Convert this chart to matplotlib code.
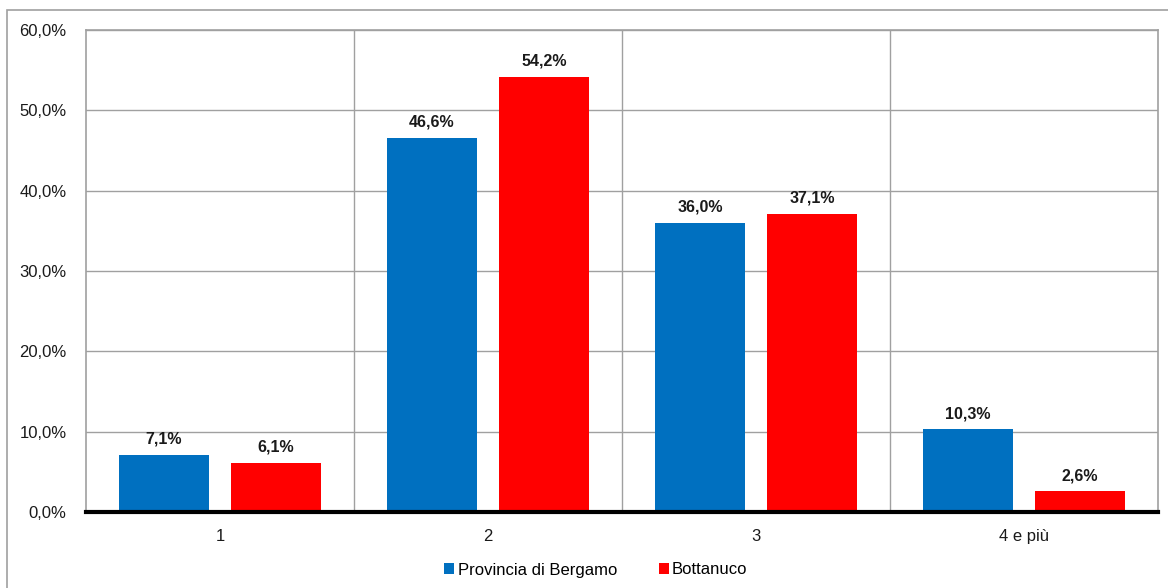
import matplotlib
matplotlib.use("Agg")
import matplotlib.pyplot as plt
import numpy as np
from matplotlib.patches import Rectangle

categories = ["1", "2", "3", "4 e più"]
bergamo = [7.1, 46.6, 36.0, 10.3]
bottanuco = [6.1, 54.2, 37.1, 2.6]
series_names = ["Provincia di Bergamo", "Bottanuco"]
yticks = [0, 10, 20, 30, 40, 50, 60]

BLUE = "#0070C0"
RED = "#FF0000"
GRID = "#A0A0A0"


def fmt(v):
    return f"{v:.1f}".replace(".", ",") + "%"


def main():
    plt.rcParams['font.family'] = ['Liberation Sans', 'DejaVu Sans']
    fig = plt.figure(figsize=(11.68, 5.88), dpi=100)

    # outer frame of the chart
    fig.patches.append(Rectangle((7 / 1168, -0.1), 1.2, (588 - 10) / 588 + 0.1,
                                 transform=fig.transFigure, fill=False,
                                 edgecolor="#A0A0A0", linewidth=1.2))

    ax = fig.add_axes([86 / 1168, 76 / 588, (1158 - 86) / 1168, (512 - 30) / 588])

    x = np.arange(len(categories))
    offset = 0.209
    width = 0.336
    b1 = ax.bar(x - offset, bergamo, width, color=BLUE, label=series_names[0], zorder=3)
    b2 = ax.bar(x + offset, bottanuco, width, color=RED, label=series_names[1], zorder=3)

    for bars, vals in ((b1, bergamo), (b2, bottanuco)):
        for rect, v in zip(bars, vals):
            ax.text(rect.get_x() + rect.get_width() / 2, v + 1.0, fmt(v),
                    ha="center", va="bottom", fontsize=11.5, fontweight="bold",
                    color="#1a1a1a", zorder=4)

    ax.set_xlim(-0.5, len(categories) - 0.5)
    ax.set_ylim(0, 60)
    ax.set_yticks(yticks)
    ax.set_yticklabels([fmt(v) for v in yticks], fontsize=12, color="#1a1a1a")
    ax.set_xticks(x)
    ax.set_xticklabels(categories, fontsize=12, color="#1a1a1a")
    ax.tick_params(axis="both", length=0)
    ax.tick_params(axis="y", pad=14)
    ax.tick_params(axis="x", pad=12)

    # horizontal grid
    ax.yaxis.grid(True, color=GRID, linewidth=1, zorder=0)
    # vertical separators between categories
    for b in np.arange(0.5, len(categories) - 0.5, 1.0):
        ax.axvline(b, color=GRID, linewidth=1, zorder=0)

    for side in ("left", "right", "top"):
        ax.spines[side].set_color(GRID)
        ax.spines[side].set_linewidth(1.2)
    ax.spines["bottom"].set_color("black")
    ax.spines["bottom"].set_linewidth(3)
    ax.spines["bottom"].set_zorder(5)

    fig.legend(loc="center", bbox_to_anchor=(596 / 1168, 1 - 570 / 588),
               ncol=2, frameon=False, fontsize=12, handlelength=0.6,
               handleheight=0.6, handletextpad=0.2, columnspacing=2.5)

    fig.savefig("out.png", dpi=100)


if __name__ == "__main__":
    main()
